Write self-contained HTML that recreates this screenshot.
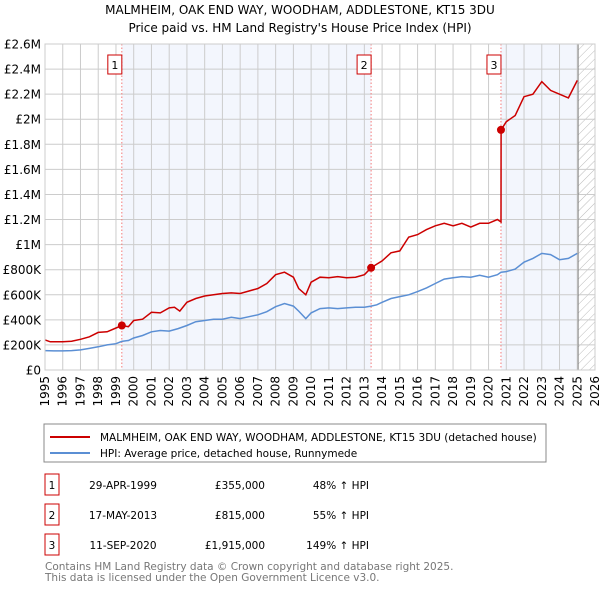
<!DOCTYPE html>
<html><head><meta charset="utf-8"><style>
body{margin:0;background:#fff;font-family:"DejaVu Sans","Liberation Sans",sans-serif;}
#wrap{position:relative;width:600px;height:590px;overflow:hidden}
</style></head><body>
<div id="wrap">
<svg id="chart" width="600" height="590" xmlns="http://www.w3.org/2000/svg" style="position:absolute;left:0;top:0" font-family="DejaVu Sans, Liberation Sans, sans-serif">
<defs><pattern id="hatch" width="6" height="6" patternUnits="userSpaceOnUse" patternTransform="rotate(45)"><line x1="0" y1="0" x2="0" y2="6" stroke="#bbb" stroke-width="1"/></pattern></defs>
<text x="300" y="14" text-anchor="middle" font-size="12" fill="#000">MALMHEIM, OAK END WAY, WOODHAM, ADDLESTONE, KT15 3DU</text>
<text x="300" y="32" text-anchor="middle" font-size="12" fill="#000">Price paid vs. HM Land Registry's House Price Index (HPI)</text>
<g id="plot"></g>
<rect x="44" y="424" width="502" height="38" fill="#fff" stroke="#888"/>
<line x1="50" y1="437" x2="90" y2="437" stroke="#cc0000" stroke-width="2"/>
<text x="100" y="441" font-size="10.5">MALMHEIM, OAK END WAY, WOODHAM, ADDLESTONE, KT15 3DU (detached house)</text>
<line x1="50" y1="453" x2="90" y2="453" stroke="#5b8fd4" stroke-width="2"/>
<text x="100" y="457" font-size="10.5">HPI: Average price, detached house, Runnymede</text>
<g id="table" font-size="10.5"></g>
<text x="45" y="570" font-size="10.5" fill="#777">Contains HM Land Registry data © Crown copyright and database right 2025.</text>
<text x="45" y="581" font-size="10.5" fill="#777">This data is licensed under the Open Government Licence v3.0.</text>
</svg>
</div>
<script>
const yTicks=[0,200000,400000,600000,800000,1000000,1200000,1400000,1600000,1800000,2000000,2200000,2400000,2600000];
const yTickLabels=["£0","£200K","£400K","£600K","£800K","£1M","£1.2M","£1.4M","£1.6M","£1.8M","£2M","£2.2M","£2.4M","£2.6M"];
const xYears=[1995,1996,1997,1998,1999,2000,2001,2002,2003,2004,2005,2006,2007,2008,2009,2010,2011,2012,2013,2014,2015,2016,2017,2018,2019,2020,2021,2022,2023,2024,2025,2026];
const hpiT=[1995,1995.5,1996,1996.5,1997,1997.5,1998,1998.5,1999,1999.33,1999.7,2000,2000.5,2001,2001.5,2002,2002.5,2003,2003.5,2004,2004.5,2005,2005.5,2006,2006.5,2007,2007.5,2008,2008.5,2009,2009.3,2009.7,2010,2010.5,2011,2011.5,2012,2012.5,2013,2013.38,2013.7,2014,2014.5,2015,2015.5,2016,2016.5,2017,2017.5,2018,2018.5,2019,2019.5,2020,2020.5,2020.7,2021,2021.5,2022,2022.5,2023,2023.5,2024,2024.5,2025];
const hpiV=[155,152,152,155,160,172,185,200,210,228,235,255,275,305,315,310,330,355,385,395,405,405,420,410,425,440,465,505,530,510,470,410,455,490,495,490,495,500,500,510,520,540,570,585,600,625,655,690,725,735,745,740,755,740,760,780,785,805,860,890,930,920,880,890,930];
const redT=[1995,1995.3,1996,1996.5,1997,1997.5,1998,1998.5,1999,1999.33,1999.7,2000,2000.5,2001,2001.5,2002,2002.3,2002.6,2003,2003.5,2004,2004.5,2005,2005.5,2006,2006.5,2007,2007.5,2008,2008.5,2009,2009.3,2009.7,2010,2010.5,2011,2011.5,2012,2012.5,2013,2013.38,2013.7,2014,2014.5,2015,2015.5,2016,2016.5,2017,2017.5,2018,2018.5,2019,2019.5,2020,2020.5,2020.7,2020.71,2021,2021.5,2022,2022.5,2023,2023.5,2024,2024.5,2025];
const redV=[240,225,225,230,245,265,300,305,335,355,345,395,405,460,455,495,500,470,540,570,590,600,610,615,610,630,650,690,760,780,740,650,600,700,740,735,745,735,740,760,815,845,870,935,950,1060,1080,1120,1150,1170,1150,1170,1140,1170,1170,1200,1180,1915,1980,2030,2180,2200,2300,2230,2200,2170,2310];
const saleT=[1999.33,2013.38,2020.7];
const saleV=[355000,815000,1915000];
const saleLabels=["1","2","3"];
const saleDates=["29-APR-1999","17-MAY-2013","11-SEP-2020"];
const salePrices=["£355,000","£815,000","£1,915,000"];
const saleHpi=["48% ↑ HPI","55% ↑ HPI","149% ↑ HPI"];

const L=45,R=595,T=44,B=370;
const xs=t=>L+(t-1995)/(2026-1995)*(R-L);
const ys=v=>B-v/2600000*(B-T);
const NS="http://www.w3.org/2000/svg";
const g=document.getElementById('plot');
function mk(tag,attrs,parent){const e=document.createElementNS(NS,tag);for(const k in attrs)e.setAttribute(k,attrs[k]);(parent||g).appendChild(e);return e;}
let e;
e=mk('rect',{x:L,y:T,width:R-L,height:B-T,fill:'#fff'});


e=mk('rect',{x:xs(saleT[0]),y:T,width:xs(saleT[1])-xs(saleT[0]),height:B-T,fill:'#f3f6fd'});


e=mk('rect',{x:xs(saleT[2]),y:T,width:xs(2025)-xs(saleT[2]),height:B-T,fill:'#f3f6fd'});


e=mk('rect',{x:xs(2025.05),y:T,width:R-xs(2025.05),height:B-T,fill:'url(#hatch)'});


yTicks.forEach((v,i)=>{
  e=mk('line',{x1:L,x2:R,y1:ys(v),y2:ys(v),stroke:'#ccc','stroke-width':1});
  
  
  e=mk('text',{x:L-4,y:ys(v)+4.5,'text-anchor':'end','font-size':12});
  e.textContent=yTickLabels[i];
  
  
});
xYears.forEach(yr=>{
  e=mk('line',{x1:xs(yr),x2:xs(yr),y1:T,y2:B,stroke:'#ccc','stroke-width':1});
  
  
  e=mk('text',{x:0,y:0,'text-anchor':'end','font-size':12,transform:`translate(${xs(yr)+4},${B+6}) rotate(-90)`});
  e.textContent=yr;
  
  
});
e=mk('line',{x1:xs(2025.05),x2:xs(2025.05),y1:T,y2:B,stroke:'#888','stroke-width':1});


saleT.forEach((t,i)=>{
  e=mk('line',{x1:xs(t),x2:xs(t),y1:T,y2:B,stroke:'#f47a7a','stroke-width':1,'stroke-dasharray':'1.5,2'});
  
  
  e=mk('rect',{x:xs(t)-14,y:55,width:14,height:19,fill:'#fff',stroke:'#cc0000'});
  
  
  e=mk('text',{x:xs(t)-7,y:69,'text-anchor':'middle','font-size':11});
  e.textContent=saleLabels[i];
  
  
});
const path=(T_,V)=>T_.map((t,i)=>(i?'L':'M')+xs(t).toFixed(1)+','+ys(V[i]*1000).toFixed(1)).join('');
e=mk('path',{d:path(hpiT,hpiV),fill:'none',stroke:'#5b8fd4','stroke-width':1.5});


e=mk('path',{d:path(redT,redV),fill:'none',stroke:'#cc0000','stroke-width':1.5});


saleT.forEach((t,i)=>{
  e=mk('circle',{cx:xs(t),cy:ys(saleV[i]),r:4,fill:'#cc0000'});
  
  
});
e=mk('rect',{x:L,y:T,width:R-L,height:B-T,fill:'none',stroke:'#ccc'});


const tb=document.getElementById('table');
saleT.forEach((t,i)=>{
  const cy=485+i*30;
  e=mk('rect',{x:45,y:cy-11,width:14,height:21,fill:'#fff',stroke:'#cc0000'},tb);
  
  
  e=mk('text',{x:52,y:cy+4,'text-anchor':'middle'},tb);e.textContent=saleLabels[i];
  
  
  e=mk('text',{x:123,y:cy+4,'text-anchor':'middle'},tb);e.textContent=saleDates[i];
  
  
  e=mk('text',{x:265,y:cy+4,'text-anchor':'end'},tb);e.textContent=salePrices[i];
  
  
  e=mk('text',{x:369,y:cy+4,'text-anchor':'end'},tb);e.textContent=saleHpi[i];
  
  
});
</script>
</body></html>
